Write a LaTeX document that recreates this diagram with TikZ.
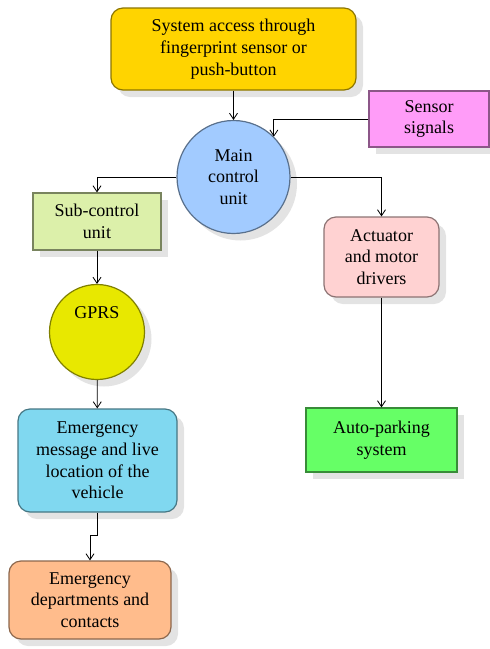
\documentclass[tikz,border=0pt]{standalone}
\usepackage{fontspec}
\setmainfont{Liberation Serif}
\usetikzlibrary{arrows.meta,shadows}

\definecolor{accessgold}{HTML}{FFD400}
\definecolor{sensorpink}{HTML}{FF9CF8}
\definecolor{mainblue}{HTML}{A2CBFF}
\definecolor{subgreen}{HTML}{DCF0AA}
\definecolor{actpink}{HTML}{FFD2D2}
\definecolor{parkgreen}{HTML}{66FF66}
\definecolor{gprsyellow}{HTML}{E8E800}
\definecolor{msgblue}{HTML}{80D8F0}
\definecolor{deporange}{HTML}{FFBC8C}

\begin{document}
\begin{tikzpicture}[x=1pt, y=-1pt,
		block/.style={draw=#1!55!black, fill=#1, line width=1.2pt, align=center,
				font=\fontsize{18}{21.7}\selectfont, inner sep=0pt,
				drop shadow={shadow xshift=7pt, shadow yshift=-7pt, opacity=0.22}},
		roundblock/.style={block=#1, rounded corners=12pt},
		disc/.style={block=#1, circle},
		link/.style={line width=0.8pt, -{Straight Barb[length=6pt, width=8pt]}}]

		\useasboundingbox (0, 0) rectangle (490, 649);

		% top and main unit
		\node[roundblock=accessgold, minimum width=245pt, minimum height=82pt] (access) at (233.5, 49)
			{System access through\\fingerprint sensor or\\push-button};
		\node[disc=mainblue, minimum size=113pt] (main) at (233.5, 177) {Main\\control\\unit};
		\node[block=sensorpink, minimum width=120pt, minimum height=56pt] (sensor) at (429, 119)
			{Sensor\\signals};

		% left branch
		\node[block=subgreen, minimum width=128pt, minimum height=57pt] (sub) at (97, 221.5)
			{Sub-control\\unit};
		\node[disc=gprsyellow, minimum size=95pt,
			label={[font=\fontsize{18}{21.7}\selectfont, yshift=19pt]center:GPRS}] (gprs) at (97, 332) {};
		\node[roundblock=msgblue, minimum width=159pt, minimum height=103pt] (msg) at (97.5, 460.5)
			{Emergency\\message and live\\location of the\\vehicle};
		\node[roundblock=deporange, minimum width=162pt, minimum height=78pt] (dep) at (90, 600)
			{Emergency\\departments and\\contacts};

		% right branch
		\node[roundblock=actpink, minimum width=115pt, minimum height=80pt] (act) at (381.5, 257)
			{Actuator\\and motor\\drivers};
		\node[block=parkgreen, minimum width=151pt, minimum height=64pt] (park) at (381.5, 440)
			{Auto-parking\\system};

		\draw[link] (access) -- (main);
		\draw[link] (sensor.west) -| (main.north east);
		\draw[link] (main.west) -| (sub.north);
		\draw[link] (main.east) -| (act.north);
		\draw[link] (act) -- (park);
		\draw[link] (sub) -- (gprs);
		\draw[link] (gprs) -- (msg);
		\draw[link] (msg.south) -- ++(0, 23) -| (dep.north);
	\end{tikzpicture}
\end{document}
